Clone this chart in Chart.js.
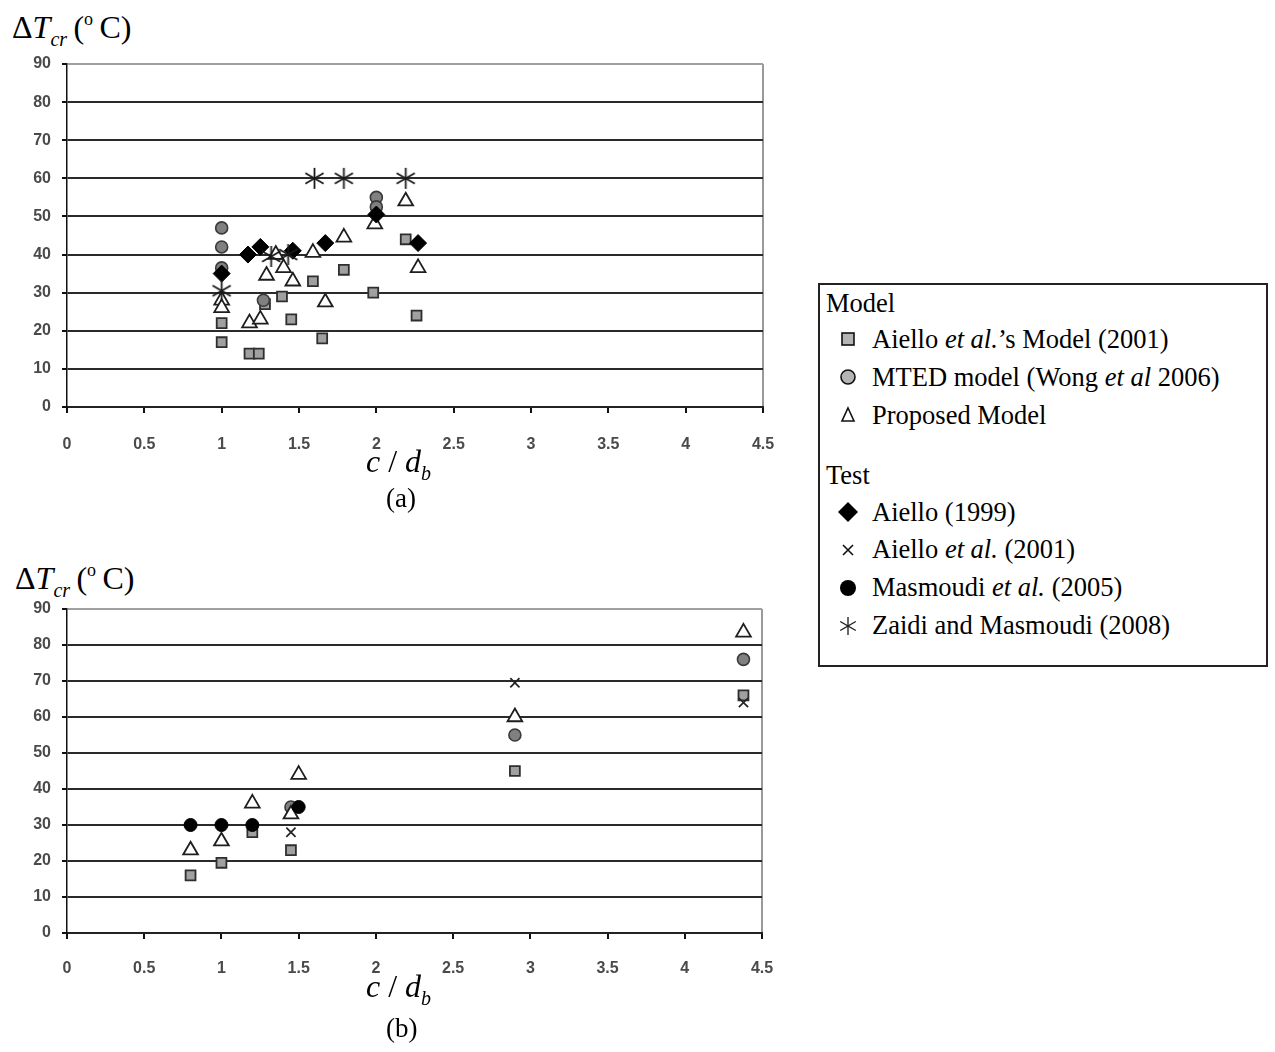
<!DOCTYPE html>
<html>
<head>
<meta charset="utf-8">
<script src="https://cdn.jsdelivr.net/npm/chart.js@4.4.1/dist/chart.umd.min.js"></script>
<style>
  body { margin: 0; background: #fff; }
  #page { position: relative; width: 1275px; height: 1052px; font-family: 'Liberation Serif', 'Times New Roman', serif; color: #000; }
  .abs { position: absolute; white-space: nowrap; }
  .ttl { font-size: 32px; line-height: 36px; }
  .ttl sub { font-size: 20px; vertical-align: -8px; }
  .ttl sup { font-size: 18px; vertical-align: 13px; }
  .sm { font-size: 27px; }
  #legend { position: absolute; left: 818px; top: 283px; width: 446px; height: 380px; border: 2px solid #222; font-size: 26.5px; }
  #legend .row { position: absolute; left: 0; width: 440px; height: 30px; line-height: 30px; white-space: nowrap; }
  #legend canvas { position: absolute; left: 16px; top: 3px; }
  #legend .txt { position: absolute; left: 52px; top: 0; white-space: nowrap; }
</style>
</head>
<body>
<div id="page">
  <div class="abs ttl" style="left:12px; top:1px;">&Delta;<i>T</i><sub><i>cr</i></sub>&thinsp;(<sup>o</sup>&thinsp;C)</div>
  <div style="position:absolute; left:0; top:40px;"><canvas id="chartA" width="800" height="420"></canvas></div>
  <div class="abs ttl" style="left:366px; top:443px;"><i>c</i> / <i>d</i><sub><i>b</i></sub></div>
  <div class="abs ttl sm" style="left:386px; top:480px;">(a)</div>

  <div class="abs ttl" style="left:15px; top:552px;">&Delta;<i>T</i><sub><i>cr</i></sub>&thinsp;(<sup>o</sup>&thinsp;C)</div>
  <div style="position:absolute; left:0; top:580px;"><canvas id="chartB" width="800" height="400"></canvas></div>
  <div class="abs ttl" style="left:366px; top:968px;"><i>c</i> / <i>d</i><sub><i>b</i></sub></div>
  <div class="abs ttl sm" style="left:386px; top:1010px;">(b)</div>

  <div id="legend"></div>
</div>
<script>
// tick labels
const xTickValues = [0, 0.5, 1, 1.5, 2, 2.5, 3, 3.5, 4, 4.5];
const xTickLabels = ['0', '0.5', '1', '1.5', '2', '2.5', '3', '3.5', '4', '4.5'];
const yTickValues = [0, 10, 20, 30, 40, 50, 60, 70, 80, 90];

// chart (a) : [c/db, dTcr]
const aAielloModel = [[1.0, 17], [1.0, 22], [1.18, 14], [1.24, 14], [1.28, 27], [1.39, 29], [1.45, 23], [1.59, 33], [1.65, 18], [1.79, 36], [1.98, 30], [2.19, 44], [2.26, 24]];
const aMted = [[1.0, 47], [1.0, 42], [1.0, 36.5], [1.27, 28], [2.0, 55], [2.0, 52.5]];
const aProposed = [[1.0, 28], [1.0, 26], [1.18, 22], [1.25, 23], [1.29, 34.5], [1.35, 40], [1.4, 36.5], [1.46, 33], [1.59, 40.5], [1.67, 27.5], [1.79, 44.5], [1.99, 48], [2.19, 54], [2.27, 36.5]];
const aAiello1999 = [[1.0, 35], [1.17, 40], [1.25, 42], [1.46, 41], [1.67, 43], [2.0, 50.5], [2.27, 43]];
const aAielloTest = [];
const aMasmoudi = [];
const aZaidi = [[1.0, 30.5], [1.32, 39.5], [1.43, 40], [1.6, 60], [1.79, 60], [2.19, 60]];

// chart (b)
const bAielloModel = [[0.8, 16], [1.0, 19.5], [1.2, 28], [1.45, 23], [2.9, 45], [4.38, 66]];
const bMted = [[1.45, 35], [2.9, 55], [4.38, 76]];
const bProposed = [[0.8, 23], [1.0, 25.5], [1.2, 36], [1.45, 33], [1.5, 44], [2.9, 60], [4.38, 83.5]];
const bAiello1999 = [];
const bAielloTest = [[1.45, 28], [2.9, 69.5], [4.38, 64]];
const bMasmoudi = [[0.8, 30], [1.0, 30], [1.2, 30], [1.5, 35]];
const bZaidi = [];

// six-armed asterisk used for Zaidi and Masmoudi (2008)
function asteriskMarker(r, lw) {
    const c = document.createElement('canvas');
    c.width = c.height = Math.ceil(2 * r + 4);
    const g = c.getContext('2d');
    const m = c.width / 2;
    g.strokeStyle = '#1a1a1a';
    g.lineWidth = lw;
    [90, 30, 150].forEach(deg => {
        const a = deg * Math.PI / 180;
        g.beginPath();
        g.moveTo(m - r * Math.cos(a), m - r * Math.sin(a));
        g.lineTo(m + r * Math.cos(a), m + r * Math.sin(a));
        g.stroke();
    });
    return c;
}

// drawn top-most first
const seriesStyles = [
    { key: 'zaidi', marker: asteriskMarker(10.5, 1.8), radius: 10, fill: '#000', stroke: '#111', width: 1.4 },
    { key: 'masmoudi', marker: 'circle', radius: 6.5, fill: '#000', stroke: '#000', width: 1 },
    { key: 'aielloTest', marker: 'crossRot', radius: 6.5, fill: '#000', stroke: '#222', width: 1.7 },
    { key: 'aiello1999', marker: 'rectRot', radius: 8.5, fill: '#000', stroke: '#000', width: 1 },
    { key: 'proposed', marker: 'triangle', radius: 8.5, fill: '#fff', stroke: '#1e1e1e', width: 1.8 },
    { key: 'mted', marker: 'circle', radius: 6, fill: '#808080', stroke: '#3a3a3a', width: 1.6 },
    { key: 'aielloModel', marker: 'rect', radius: 7, fill: '#a0a0a0', stroke: '#2e2e2e', width: 1.8 }
];

function buildChart(id, data, box) {
    const datasets = seriesStyles.map(s => ({
        label: s.key,
        data: data[s.key].map(p => ({ x: p[0], y: p[1] })),
        pointStyle: s.marker,
        pointRadius: s.radius,
        pointBackgroundColor: s.fill,
        pointBorderColor: s.stroke,
        pointBorderWidth: s.width,
        showLine: false
    }));
    const tickFont = { family: "'Liberation Sans', Arial, sans-serif", size: 16, weight: 'bold' };
    return new Chart(document.getElementById(id), {
        type: 'scatter',
        data: { datasets: datasets },
        options: {
            responsive: false, animation: false, events: [],
            layout: { padding: { top: box.top, right: box.right, left: 0, bottom: 0 } },
            plugins: { legend: { display: false }, tooltip: { enabled: false } },
            scales: {
                x: {
                    type: 'linear', min: 0, max: 4.5,
                    afterBuildTicks: sc => { sc.ticks = xTickValues.map(v => ({ value: v })); },
                    afterFit: sc => { sc.height = box.xh; },
                    ticks: { callback: (v, i) => xTickLabels[i], color: '#4a4a4a', font: tickFont, padding: box.xpad, maxRotation: 0 },
                    grid: {
                        color: c => c.tick && c.tick.value === 4.5 ? '#9a9a9a' : 'rgba(0,0,0,0)',
                        tickColor: '#111', tickLength: 6, lineWidth: 2
                    },
                    border: { color: '#222', width: 2 }
                },
                y: {
                    min: 0, max: 90,
                    afterBuildTicks: sc => { sc.ticks = yTickValues.map(v => ({ value: v })); },
                    afterFit: sc => { sc.width = 67; },
                    ticks: { color: '#4a4a4a', font: tickFont, padding: 11 },
                    grid: {
                        color: c => c.tick && c.tick.value === 90 ? '#a0a0a0' : '#2a2a2a',
                        tickColor: '#111', tickLength: 5, lineWidth: 2
                    },
                    border: { color: '#111', width: 1.5 }
                }
            }
        }
    });
}

buildChart('chartA', {
    zaidi: aZaidi, masmoudi: aMasmoudi, aielloTest: aAielloTest, aiello1999: aAiello1999,
    proposed: aProposed, mted: aMted, aielloModel: aAielloModel
}, { top: 24, right: 37, xh: 53, xpad: 22 });

buildChart('chartB', {
    zaidi: bZaidi, masmoudi: bMasmoudi, aielloTest: bAielloTest, aiello1999: bAiello1999,
    proposed: bProposed, mted: bMted, aielloModel: bAielloModel
}, { top: 29, right: 38, xh: 47, xpad: 20 });

// legend box (shared by both panels)
const legendRows = [
    { y: 18, head: 'Model' },
    { y: 54, sym: 'square', html: 'Aiello <i>et al.</i>&rsquo;s Model (2001)' },
    { y: 92, sym: 'circle', html: 'MTED model (Wong <i>et al</i> 2006)' },
    { y: 130, sym: 'triangle', html: 'Proposed Model' },
    { y: 190, head: 'Test' },
    { y: 227, sym: 'diamond', html: 'Aiello (1999)' },
    { y: 264, sym: 'cross', html: 'Aiello <i>et al.</i> (2001)' },
    { y: 302, sym: 'dot', html: 'Masmoudi <i>et al.</i> (2005)' },
    { y: 340, sym: 'star', html: 'Zaidi and Masmoudi (2008)' }
];

function drawSymbol(g, sym) {
    const m = 12;
    g.lineWidth = 1.6;
    g.strokeStyle = '#111';
    if (sym === 'square') {
        g.fillStyle = '#b4b4b4'; g.fillRect(m - 6, m - 6, 12, 12); g.strokeRect(m - 6, m - 6, 12, 12);
    } else if (sym === 'circle') {
        g.fillStyle = '#b4b4b4'; g.beginPath(); g.arc(m, m, 7, 0, Math.PI * 2); g.fill(); g.stroke();
    } else if (sym === 'triangle') {
        g.beginPath(); g.moveTo(m, m - 7); g.lineTo(m + 6, m + 6); g.lineTo(m - 6, m + 6); g.closePath(); g.stroke();
    } else if (sym === 'diamond') {
        g.fillStyle = '#000'; g.beginPath(); g.moveTo(m, m - 10); g.lineTo(m + 10, m); g.lineTo(m, m + 10); g.lineTo(m - 10, m); g.closePath(); g.fill();
    } else if (sym === 'cross') {
        g.beginPath(); g.moveTo(m - 5, m - 4); g.lineTo(m + 5, m + 6); g.moveTo(m + 5, m - 4); g.lineTo(m - 5, m + 6); g.stroke();
    } else if (sym === 'dot') {
        g.fillStyle = '#000'; g.beginPath(); g.arc(m, m + 1, 8, 0, Math.PI * 2); g.fill();
    } else if (sym === 'star') {
        g.drawImage(asteriskMarker(9, 1.3), m - 11, m - 10);
    }
}

const legend = document.getElementById('legend');
legendRows.forEach(r => {
    const row = document.createElement('div');
    row.className = 'row';
    row.style.top = (r.y - 15) + 'px';
    if (r.head) {
        row.innerHTML = '<span style="position:absolute;left:6px">' + r.head + '</span>';
    } else {
        const cv = document.createElement('canvas');
        cv.width = 24; cv.height = 24;
        drawSymbol(cv.getContext('2d'), r.sym);
        row.appendChild(cv);
        const t = document.createElement('span');
        t.className = 'txt';
        t.innerHTML = r.html;
        row.appendChild(t);
    }
    legend.appendChild(row);
});
</script>
</body>
</html>
